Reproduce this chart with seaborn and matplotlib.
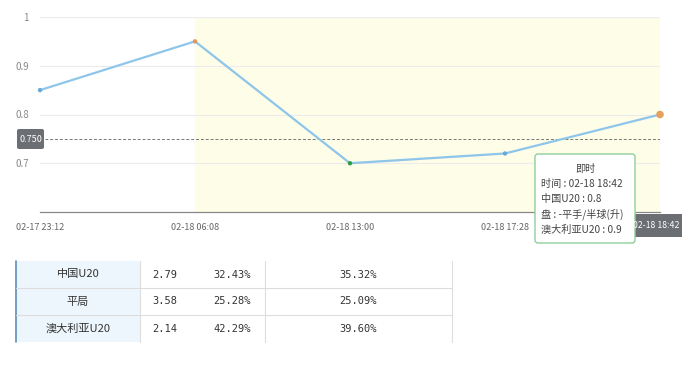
import matplotlib
matplotlib.use('Agg')
import matplotlib.pyplot as plt
import seaborn as sns
import pandas as pd
from matplotlib.patches import FancyBboxPatch, Rectangle

# dados do grafico
horarios = ['02-17 23:12', '02-18 06:08', '02-18 13:00', '02-18 17:28', '02-18 18:42']
valores = [0.85, 0.95, 0.70, 0.72, 0.80]
cores_pontos = ['#6aa8d8', '#e8955a', '#2e9e3e', '#6aa8d8', '#e8a060']
linha_ref = 0.75
y_ticks = [0.7, 0.8, 0.9, 1.0]
y_labels = ['0.7', '0.8', '0.9', '1']

tooltip_titulo = '即时'
tooltip_linhas = ['时间 : 02-18 18:42', '中国U20 : 0.8', '盘 : -平手/半球(升)', '澳大利亚U20 : 0.9']

# tabela
equipes = ['中国U20', '平局', '澳大利亚U20']
odds = ['2.79', '3.58', '2.14']
prob1 = ['32.43%', '25.28%', '42.29%']
prob2 = ['35.32%', '25.09%', '39.60%']

sns.set_style('white')
plt.rcParams['font.family'] = ['Noto Sans CJK SC', 'DejaVu Sans']

W, H = 682, 371
fig = plt.figure(figsize=(W / 100, H / 100), dpi=100)

df = pd.DataFrame({'x': range(len(horarios)), 'y': valores})

ax = fig.add_axes([40 / W, 1 - 212 / H, 620 / W, 195 / H])
ax.axvspan(1, len(horarios) - 1, color='#fdfde8', zorder=0)
for yt in y_ticks:
    ax.axhline(yt, color='#ececec', lw=0.8, zorder=1)
ax.axhline(linha_ref, color='#777777', lw=0.7, ls=(0, (3, 2)), zorder=2)
ax.axvline(len(horarios) - 1, color='#bbbbbb', lw=0.7, ls=(0, (3, 2)), zorder=2)

sns.lineplot(data=df, x='x', y='y', ax=ax, color='#8ec5ea', lw=1.6, zorder=3)
tamanhos = [10] * (len(horarios) - 1) + [30]
sns.scatterplot(data=df, x='x', y='y', ax=ax, hue='x', palette=cores_pontos,
                size='x', sizes=dict(zip(range(len(horarios)), tamanhos)),
                legend=False, edgecolor='none', zorder=4, clip_on=False)

ax.set_xlim(0, len(horarios) - 1)
ax.set_ylim(0.6, 1.0)
ax.set_xticks(range(len(horarios)))
# o ultimo rotulo fica escondido atras da etiqueta do cursor
ax.set_xticklabels(horarios[:-1] + [''], fontsize=6.5, color='#666666')
ax.set_yticks(y_ticks)
ax.set_yticklabels(y_labels, fontsize=7, color='#888888')
ax.tick_params(axis='x', length=4, color='#888888', pad=4)
ax.tick_params(axis='y', length=0, pad=8)
ax.set_xlabel('')
ax.set_ylabel('')
for s in ['top', 'right', 'left']:
    ax.spines[s].set_visible(False)
ax.spines['bottom'].set_color('#888888')
ax.spines['bottom'].set_linewidth(0.9)

# camada de overlay em pixels
ov = fig.add_axes([0, 0, 1, 1], zorder=10)
ov.set_xlim(0, W)
ov.set_ylim(H, 0)
ov.axis('off')

# etiqueta 0.750
ov.add_patch(FancyBboxPatch((17, 129), 27, 20, boxstyle='round,pad=0,rounding_size=2',
                            fc='#6b6e73', ec='none'))
ov.text(31, 139, f'{linha_ref:.3f}', color='white', fontsize=6.5, ha='center', va='center')

# etiqueta horario
ov.add_patch(FancyBboxPatch((631, 214), 55, 23, boxstyle='round,pad=0,rounding_size=2',
                            fc='#6b6e73', ec='none'))
ov.text(656, 225.5, horarios[-1], color='white', fontsize=6.3, ha='center', va='center')

# tooltip
ov.add_patch(FancyBboxPatch((535, 154), 100, 89, boxstyle='round,pad=0,rounding_size=3',
                            fc='white', ec='#8fcf9a', lw=1))
ov.text(585, 169, tooltip_titulo, fontsize=7.3, color='#444444', ha='center', va='center')
for i, t in enumerate(tooltip_linhas):
    ov.text(541, 184 + i * 15.3, t, fontsize=7.3, color='#444444', ha='left', va='center')

# tabela
topo, alt = 261, 27
ov.add_patch(Rectangle((16, topo), 124, alt * 3, fc='#edf6fc', ec='none'))
ov.plot([16, 16], [topo, topo + alt * 3], color='#5b8fb9', lw=1.2)
for x in [140, 265, 452]:
    ov.plot([x, x], [topo, topo + alt * 3], color='#dddddd', lw=0.8)
for r in range(1, 3):
    ov.plot([16, 452], [topo + alt * r, topo + alt * r], color='#dddddd', lw=0.8)
for r in range(3):
    yc = topo + alt * r + alt / 2
    ov.text(78, yc, equipes[r], fontsize=8, color='#333333', ha='center', va='center')
    ov.text(165, yc, odds[r], fontsize=7.5, color='#333333', ha='center', va='center',
            family='DejaVu Sans Mono')
    ov.text(232, yc, prob1[r], fontsize=7.5, color='#333333', ha='center', va='center',
            family='DejaVu Sans Mono')
    ov.text(358, yc, prob2[r], fontsize=7.5, color='#333333', ha='center', va='center',
            family='DejaVu Sans Mono')

fig.savefig('out.png', dpi=100)
